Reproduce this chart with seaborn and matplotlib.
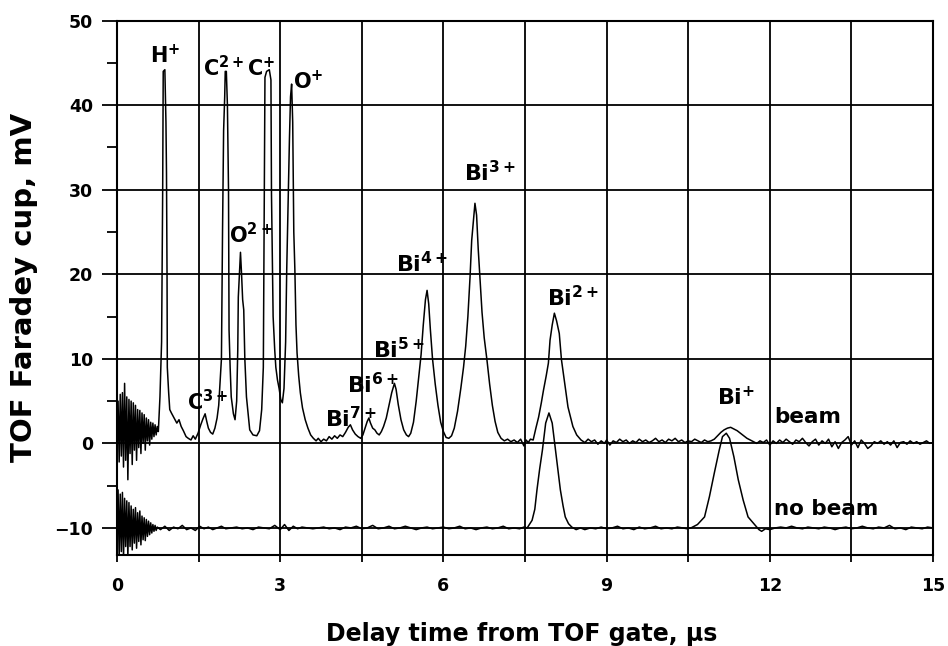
import matplotlib
matplotlib.use("Agg")
import matplotlib.pyplot as plt
import pandas as pd
import seaborn as sns
from matplotlib.ticker import MultipleLocator

# ---------------- data ----------------
beam_t = [
    0.00, 0.02, 0.04, 0.06, 0.08, 0.10, 0.12, 0.14, 0.16, 0.18,
    0.20, 0.22, 0.24, 0.26, 0.28, 0.30, 0.32, 0.34, 0.36, 0.38,
    0.40, 0.42, 0.44, 0.46, 0.48, 0.50, 0.52, 0.54, 0.56, 0.58,
    0.60, 0.62, 0.64, 0.66, 0.68, 0.70, 0.72, 0.74, 0.76,
    0.78, 0.79, 0.82, 0.84, 0.85, 0.88, 0.90, 0.91, 0.92, 0.925,
    0.95, 0.97, 1.00, 1.05, 1.10, 1.14, 1.18, 1.22, 1.27, 1.31,
    1.36, 1.40, 1.44, 1.49, 1.54, 1.58, 1.62, 1.65, 1.68, 1.72,
    1.76, 1.80, 1.84, 1.87, 1.89, 1.92, 1.94, 1.96, 1.98, 1.99,
    2.01, 2.03, 2.05, 2.06, 2.08, 2.10, 2.14, 2.17, 2.20, 2.22,
    2.23, 2.25, 2.27, 2.29, 2.31, 2.33, 2.35, 2.38, 2.44, 2.50,
    2.57, 2.62, 2.66, 2.69, 2.70, 2.71, 2.72, 2.75, 2.80, 2.83,
    2.84, 2.86, 2.87, 2.90, 2.92, 2.95, 2.98, 3.01, 3.04, 3.07,
    3.10, 3.12, 3.15, 3.17, 3.19, 3.21, 3.23, 3.25, 3.27, 3.29,
    3.31, 3.34, 3.37, 3.41, 3.46, 3.51, 3.56, 3.61, 3.66, 3.70,
    3.75, 3.80, 3.85, 3.90, 3.95, 4.00, 4.05, 4.10, 4.15, 4.20,
    4.25, 4.29, 4.33, 4.38, 4.43, 4.48, 4.52, 4.56, 4.60, 4.63,
    4.66, 4.70, 4.74, 4.78, 4.82, 4.86, 4.90, 4.95, 5.00, 5.05,
    5.10, 5.13, 5.17, 5.22, 5.27, 5.32, 5.36, 5.40, 5.45, 5.50,
    5.55, 5.59, 5.63, 5.67, 5.70, 5.73, 5.76, 5.80, 5.85, 5.90,
    5.95, 6.00, 6.05, 6.10, 6.15, 6.20, 6.26, 6.32, 6.37, 6.41,
    6.45, 6.49, 6.52, 6.56, 6.58, 6.61, 6.64, 6.67, 6.71, 6.75,
    6.80, 6.85, 6.90, 6.95, 7.00, 7.06, 7.12, 7.18, 7.24, 7.30,
    7.36, 7.42, 7.48, 7.52, 7.56, 7.60, 7.65, 7.70, 7.75, 7.80,
    7.84, 7.89, 7.93, 7.96, 8.00, 8.04, 8.08, 8.13, 8.17, 8.23,
    8.29, 8.34, 8.38, 8.45, 8.53, 8.60, 8.66, 8.72, 8.78, 8.84,
    8.90, 8.96, 9.00, 9.06, 9.12, 9.18, 9.24, 9.30, 9.36, 9.42,
    9.48, 9.54, 9.60, 9.66, 9.72, 9.78, 9.84, 9.90, 9.96, 10.02,
    10.08, 10.14, 10.20, 10.26, 10.32, 10.38, 10.44, 10.50, 10.56, 10.62,
    10.68, 10.74, 10.80, 10.86, 10.92, 10.98, 11.04, 11.10, 11.16, 11.22,
    11.28, 11.34, 11.40, 11.46, 11.52, 11.58, 11.64, 11.70, 11.76, 11.82,
    11.88, 11.94, 12.00, 12.06, 12.12, 12.18, 12.24, 12.30, 12.36, 12.42,
    12.48, 12.54, 12.60, 12.66, 12.72, 12.78, 12.84, 12.90, 12.96, 13.02,
    13.08, 13.14, 13.20, 13.26, 13.32, 13.38, 13.44, 13.50, 13.56, 13.62,
    13.68, 13.74, 13.80, 13.86, 13.92, 13.98, 14.04, 14.10, 14.16, 14.22,
    14.28, 14.34, 14.40, 14.46, 14.52, 14.58, 14.64, 14.70, 14.76, 14.82,
    14.88, 14.94, 15.00,
]
beam_mv = [
    1.5, 5.0, -2.2, 5.8, -1.5, 6.0, -2.8, 7.1, -2.0, 5.5,
    -4.3, 5.2, -1.2, 5.0, -2.5, 4.8, -0.8, 4.5, -2.0, 4.0,
    -0.5, 3.9, -1.2, 3.6, 0.0, 3.4, -0.8, 3.0, 0.3, 2.8,
    -0.2, 2.5, 0.5, 2.4, 0.8, 2.2, 1.0, 2.0, 1.4,
    4.0, 5.5, 12.0, 30.0, 44.0, 44.2, 38.0, 32.0, 20.0, 9.0,
    6.0, 4.0, 3.6, 3.0, 2.4, 2.8, 2.0, 1.5, 0.8, 0.6,
    0.4, 0.9, 0.5, 1.2, 2.2, 2.9, 3.5, 2.6, 1.8, 1.3,
    1.1, 1.8, 3.0, 4.5, 6.7, 10.0, 25.0, 37.0, 41.0, 44.0,
    44.0, 40.0, 30.0, 13.4, 9.0, 5.5, 3.5, 2.8, 5.0, 11.0,
    17.3, 20.0, 22.6, 20.0, 17.0, 15.8, 10.0, 5.5, 1.6, 1.0,
    0.9, 1.5, 4.0, 9.0, 20.0, 33.0, 43.3, 44.0, 44.2, 43.0,
    29.5, 20.0, 15.0, 11.0, 9.0, 7.5, 6.5, 5.2, 4.8, 6.5,
    12.0, 20.5, 30.0, 36.0, 41.0, 42.5, 38.0, 25.0, 20.5, 14.0,
    10.7, 8.0, 6.0, 4.2, 2.8, 1.8, 1.0, 0.6, 0.3, 0.6,
    0.2, 0.5, 0.3, 0.8, 0.5, 0.9, 0.6, 1.0, 0.8, 1.3,
    1.9, 2.2, 1.6, 1.1, 0.8, 0.6, 1.0, 1.8, 2.6, 3.0,
    2.4, 1.8, 1.6, 1.2, 1.0, 1.4, 2.0, 3.0, 4.5, 6.0,
    7.1, 6.4, 4.6, 2.8, 1.6, 1.0, 0.8, 1.2, 2.5, 5.0,
    8.0, 10.5, 14.0, 17.0, 18.1, 16.5, 13.5, 10.0, 7.0, 4.5,
    2.5, 1.4, 0.7, 0.6, 0.9, 1.8, 3.8, 6.5, 9.0, 11.5,
    15.0, 19.7, 24.0, 27.0, 28.4, 27.0, 23.0, 19.7, 15.5, 12.5,
    9.9, 7.0, 4.5, 2.6, 1.3, 0.6, 0.3, 0.5, 0.2, 0.4,
    0.1, 0.5, -0.3, 0.4, 0.1, 0.5, 0.4, 1.8, 3.1, 4.8,
    6.3, 8.0, 9.5, 12.2, 14.0, 15.4, 14.5, 13.0, 9.9, 7.1,
    4.3, 3.0, 2.0, 1.0, 0.4, 0.1, 0.5, 0.2, 0.4, -0.1,
    0.3, 0.0, 0.4, -0.2, 0.3, 0.1, 0.5, 0.2, 0.4, 0.0,
    0.3, 0.1, 0.5, 0.2, 0.4, 0.1, 0.3, 0.6, 0.2, 0.4,
    0.1, 0.5, 0.3, 0.6, 0.2, 0.4, 0.1, 0.3, 0.2, 0.5,
    0.3, 0.1, 0.4, 0.2, 0.3, 0.5, 0.9, 1.3, 1.6, 1.8,
    1.9, 1.7, 1.5, 1.2, 0.9, 0.6, 0.4, 0.2, 0.0, 0.3,
    0.1, 0.4, -0.2, 0.3, 0.0, 0.4, 0.1, 0.5, 0.2, -0.1,
    0.4, 0.2, 0.6, 0.1, -0.3, 0.2, 0.5, -0.2, 0.3, 0.0,
    0.5, -0.4, 0.2, -0.6, 0.1, 0.4, 0.8, -0.2, 0.3, -0.5,
    0.4, 0.0, -0.6, -0.3, 0.2, 0.0, 0.3, -0.1, 0.2, -0.2,
    0.3, -0.5, 0.1, 0.2, -0.1, 0.3, 0.0, 0.2, -0.1, 0.1,
    0.3, 0.0, 0.1,
]

nobeam_t = [
    0.00, 0.02, 0.04, 0.06, 0.08, 0.10, 0.12, 0.14, 0.16, 0.18,
    0.20, 0.22, 0.24, 0.26, 0.28, 0.30, 0.32, 0.34, 0.36, 0.38,
    0.40, 0.42, 0.44, 0.46, 0.48, 0.50, 0.52, 0.54, 0.56, 0.58,
    0.60, 0.62, 0.64, 0.66, 0.68, 0.70, 0.72, 0.74, 0.80, 0.88,
    0.96, 1.04, 1.12, 1.20, 1.28, 1.36, 1.44, 1.52, 1.60, 1.68,
    1.76, 1.84, 1.92, 2.00, 2.10, 2.20, 2.30, 2.40, 2.50, 2.60,
    2.70, 2.80, 2.90, 3.00, 3.08, 3.16, 3.24, 3.32, 3.40, 3.50,
    3.60, 3.70, 3.80, 3.90, 4.00, 4.10, 4.20, 4.30, 4.40, 4.50,
    4.60, 4.70, 4.80, 4.90, 5.00, 5.10, 5.20, 5.30, 5.40, 5.50,
    5.60, 5.70, 5.80, 5.90, 6.00, 6.10, 6.20, 6.30, 6.40, 6.50,
    6.60, 6.70, 6.80, 6.90, 7.00, 7.10, 7.20, 7.30, 7.40, 7.48,
    7.54, 7.63, 7.68, 7.72, 7.77, 7.82, 7.88, 7.94, 8.00, 8.06,
    8.10, 8.15, 8.20, 8.24, 8.30, 8.36, 8.44, 8.52, 8.60, 8.70,
    8.80, 8.90, 9.00, 9.10, 9.20, 9.30, 9.40, 9.50, 9.60, 9.70,
    9.80, 9.90, 10.00, 10.10, 10.20, 10.30, 10.40, 10.48, 10.55, 10.67,
    10.80, 10.89, 10.98, 11.07, 11.13, 11.20, 11.26, 11.34, 11.42, 11.51,
    11.60, 11.72, 11.80, 11.85, 11.92, 12.00, 12.10, 12.20, 12.30, 12.40,
    12.50, 12.60, 12.70, 12.80, 12.90, 13.00, 13.10, 13.20, 13.30, 13.40,
    13.50, 13.60, 13.70, 13.80, 13.90, 14.00, 14.10, 14.20, 14.30, 14.40,
    14.50, 14.60, 14.70, 14.80, 14.90, 15.00,
]
nobeam_mv = [
    -10.0, -5.5, -13.5, -6.0, -12.8, -5.8, -13.6, -6.5, -12.2, -6.8,
    -13.4, -7.0, -12.2, -7.4, -12.6, -7.8, -11.8, -7.6, -12.4, -8.2,
    -11.6, -8.0, -12.0, -8.6, -11.4, -8.8, -11.5, -9.0, -11.0, -9.2,
    -10.8, -9.4, -10.6, -9.6, -10.4, -9.7, -10.3, -9.9, -10.2, -9.8,
    -10.3, -9.9, -10.1, -9.7, -10.2, -10.0, -10.3, -9.8, -10.1, -9.9,
    -10.2, -10.0, -9.8, -10.1, -10.0, -9.9, -10.1, -10.0, -10.2, -9.9,
    -10.0, -10.1, -9.7, -10.2, -9.6, -10.3, -9.8, -10.1, -9.9, -10.0,
    -10.1, -10.0, -9.9, -10.1, -10.0, -10.2, -9.9, -10.0, -9.8, -10.1,
    -10.0, -9.7, -10.1, -10.0, -9.8, -10.1, -10.0, -9.8, -10.0, -10.2,
    -10.0, -9.9, -10.1, -10.0, -9.9, -10.1, -10.0, -9.8, -10.1, -10.0,
    -10.2, -10.0, -9.9, -10.1, -10.0, -9.8, -10.1, -10.0, -10.1, -9.9,
    -10.0, -9.1, -7.8, -5.5, -3.0, -0.8, 2.4, 3.6, 2.4, -0.8,
    -3.0, -5.5, -7.4, -8.7, -9.5, -9.9, -10.2, -10.0, -10.2, -10.0,
    -10.1, -9.9, -10.1, -10.0, -9.8, -10.1, -10.0, -10.2, -9.9, -10.1,
    -10.0, -9.8, -10.1, -10.0, -10.1, -9.9, -10.0, -10.1, -10.0, -9.6,
    -8.7, -6.3, -3.5, -0.8, 0.8, 1.2, 0.6, -1.6, -4.3, -6.7,
    -8.7, -9.6, -10.2, -10.4, -10.1, -10.2, -10.0, -9.9, -10.0, -9.8,
    -10.0, -10.1, -9.9, -10.0, -10.1, -9.9, -10.0, -10.2, -10.0, -9.9,
    -10.1, -10.0, -9.8, -10.0, -10.1, -9.9, -10.0, -9.7, -10.1, -10.0,
    -10.2, -9.9, -10.0, -10.1, -9.9, -10.0,
]

ion_names = ["H$^{+}$", "C$^{3+}$", "C$^{2+}$", "O$^{2+}$", "C$^{+}$", "O$^{+}$",
             "Bi$^{7+}$", "Bi$^{6+}$", "Bi$^{5+}$", "Bi$^{4+}$", "Bi$^{3+}$",
             "Bi$^{2+}$", "Bi$^{+}$"]
ion_t = [0.61, 1.29, 1.58, 2.06, 2.39, 3.24, 3.82, 4.22, 4.71, 5.13, 6.38, 7.90, 11.03]
ion_mv = [45.0, 3.95, 43.4, 23.7, 43.4, 41.9, 1.95, 5.95, 10.1, 20.2, 31.0, 16.2, 4.5]

trace_names = ["beam", "no beam"]
trace_t = [12.08, 12.08]
trace_mv = [2.4, -8.5]

x_ticks = [0, 3, 6, 9, 12, 15]
y_ticks = [-10, 0, 10, 20, 30, 40, 50]

# ---------------- styling ----------------
sns.set_theme(style="white")
plt.rcParams["font.family"] = ["DejaVu Sans"]
plt.rcParams["font.weight"] = "bold"
plt.rcParams["mathtext.fontset"] = "dejavusans"
plt.rcParams["mathtext.default"] = "bf"

fig = plt.figure(figsize=(9.48, 6.46), dpi=100)
ax = fig.add_axes([0.1234, 0.1409, 0.8608, 0.8271])

df_beam = pd.DataFrame({"t": beam_t, "mv": beam_mv})
df_nobeam = pd.DataFrame({"t": nobeam_t, "mv": nobeam_mv})
sns.lineplot(data=df_beam, x="t", y="mv", ax=ax, color="black", lw=1.1,
             sort=False, estimator=None, zorder=3)
sns.lineplot(data=df_nobeam, x="t", y="mv", ax=ax, color="black", lw=1.1,
             sort=False, estimator=None, zorder=3)

ax.set_xlim(0, 15)
ax.set_ylim(-13.2, 50)
ax.set_xticks(x_ticks)
ax.set_yticks(y_ticks)
ax.xaxis.set_minor_locator(MultipleLocator(1.5))
ax.yaxis.set_minor_locator(MultipleLocator(5))
ax.set_axisbelow(True)
ax.grid(which="major", axis="both", color="black", lw=1.3)
ax.grid(which="minor", axis="x", color="black", lw=1.3)
ax.grid(which="minor", axis="y", visible=False)

for s in ax.spines.values():
    s.set_visible(True)
    s.set_color("black")
    s.set_linewidth(1.5)

ax.tick_params(axis="x", which="both", direction="out", length=5, width=1.3,
               color="black", bottom=True)
ax.tick_params(axis="x", which="major", labelsize=12.5, pad=11)
ax.tick_params(axis="y", which="major", direction="out", length=11, width=1.3,
               labelsize=12.5, pad=6, left=True, color="black")
ax.tick_params(axis="y", which="minor", direction="out", length=7, width=1.3,
               left=True, color="black")
for lab in ax.get_xticklabels() + ax.get_yticklabels():
    lab.set_fontweight("bold")
    lab.set_color("black")

ax.set_xlabel("Delay time from TOF gate, µs", fontsize=17, fontweight="bold",
              color="black")
ax.set_ylabel("TOF Faradey cup, mV", fontsize=21, fontweight="bold",
              color="black")
ax.xaxis.set_label_coords(0.496, -0.125)
ax.yaxis.set_label_coords(-0.097, 0.5)

for name, t, v in zip(ion_names, ion_t, ion_mv):
    fs = 16 if name.startswith("Bi") else 15
    ax.text(t, v, name, ha="left", va="baseline", fontsize=fs,
            fontweight="bold", color="black", zorder=4)
for name, t, v in zip(trace_names, trace_t, trace_mv):
    ax.text(t, v, name, ha="left", va="baseline", fontsize=15.5,
            fontweight="bold", color="black", zorder=4)

fig.savefig("out.png", dpi=100, facecolor="white")
